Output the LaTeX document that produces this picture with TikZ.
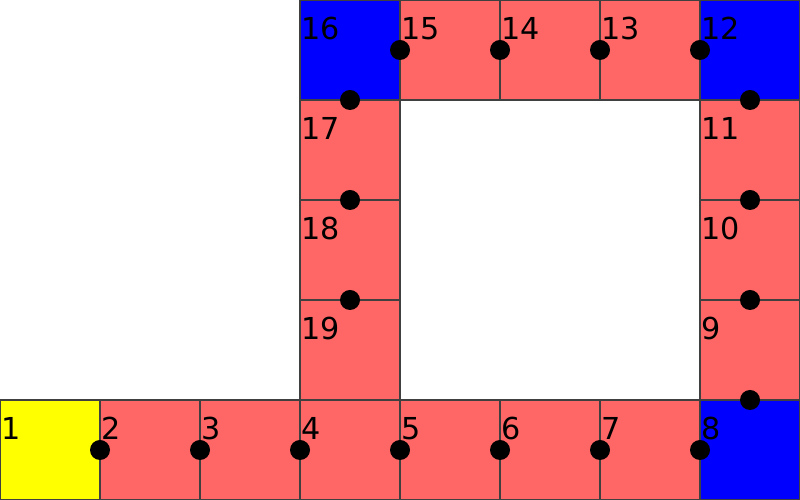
\documentclass[tikz,border=0pt]{standalone}
\usepackage{fontspec}
\setmainfont{DejaVu Sans}
\definecolor{cellred}{HTML}{FF6666}
\definecolor{cellblue}{HTML}{0000FF}
\definecolor{cellyellow}{HTML}{FFFF00}
\tikzset{
  cell/.style={draw=black!75, line width=0.35pt, minimum size=1cm, inner sep=0pt, outer sep=0pt},
  redcell/.style={cell, fill=cellred},
  bluecell/.style={cell, fill=cellblue},
  yellowcell/.style={cell, fill=cellyellow},
  numlabel/.style={anchor=base west, inner sep=0pt, font=\fontsize{8.6}{10}\selectfont},
  dot/.style={fill=black}
}
\begin{document}
\begin{tikzpicture}
\useasboundingbox (0,0) rectangle (8,5);
% cells
\node[yellowcell] (c1) at (0.5,0.5) {};
\foreach \i/\x in {2/1.5,3/2.5,4/3.5,5/4.5,6/5.5,7/6.5} \node[redcell] (c\i) at (\x,0.5) {};
\node[bluecell] (c8) at (7.5,0.5) {};
\foreach \i/\y in {9/1.5,10/2.5,11/3.5} \node[redcell] (c\i) at (7.5,\y) {};
\node[bluecell] (c12) at (7.5,4.5) {};
\foreach \i/\x in {13/6.5,14/5.5,15/4.5} \node[redcell] (c\i) at (\x,4.5) {};
\node[bluecell] (c16) at (3.5,4.5) {};
\foreach \i/\y in {17/3.5,18/2.5,19/1.5} \node[redcell] (c\i) at (3.5,\y) {};
% labels
\foreach \i in {1,...,19}
  \node[numlabel] (l\i) at ([xshift=0.005cm,yshift=-0.393cm]c\i.north west) {\i};
% dots
\foreach \i in {2,...,8} \fill[dot] (c\i.west) circle (0.1);
\foreach \i in {9,...,12} \fill[dot] (c\i.south) circle (0.1);
\foreach \i in {13,...,16} \fill[dot] (c\i.east) circle (0.1);
\foreach \i in {17,18,19} \fill[dot] (c\i.north) circle (0.1);
\end{tikzpicture}
\end{document}
